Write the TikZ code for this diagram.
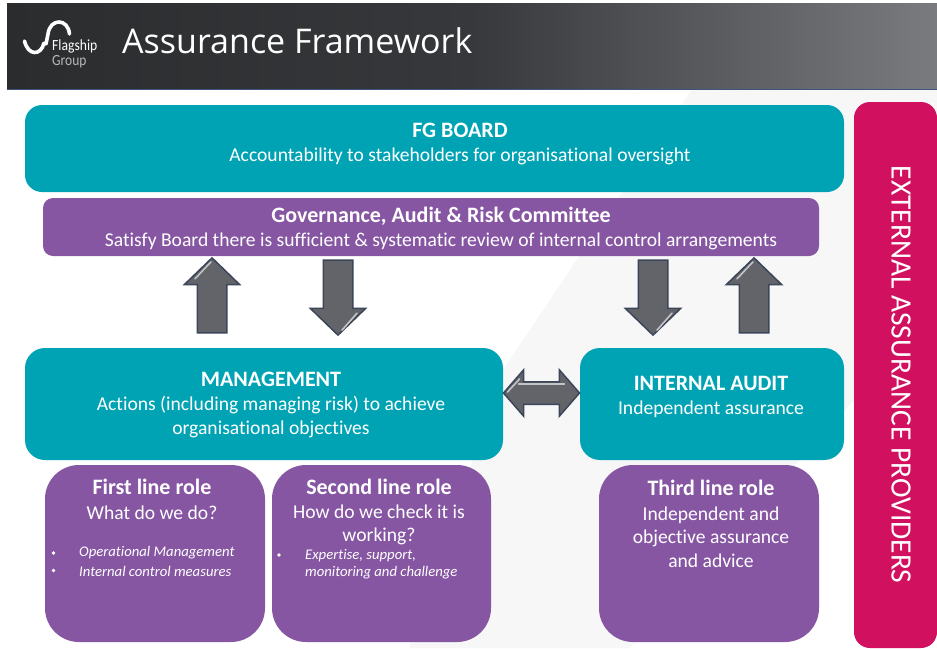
\documentclass[tikz,border=0pt]{standalone}
\usepackage{fontspec}
\setmainfont[Ligatures=NoCommon]{Carlito}
\newfontfamily\titlefont{Open Sans}
\usetikzlibrary{shapes.arrows,shadings}
\definecolor{teal1}{HTML}{00A3B4}
\definecolor{purp1}{HTML}{8656A3}
\definecolor{mag1}{HTML}{D1115F}
\definecolor{arrfill}{HTML}{62646A}
\definecolor{arrline}{HTML}{3C4659}
\definecolor{palebg}{HTML}{F7F7F8}
\definecolor{hdA}{HTML}{2B2C2E}
\definecolor{hdB}{HTML}{37383B}
\definecolor{hdC}{HTML}{7A7B7E}
\definecolor{hdline}{HTML}{3B5580}
\tikzset{
  txt/.style={text=white,align=center,inner sep=0pt,font=\fontsize{19.6}{23.5}\selectfont},
  head/.style={txt,font=\fontsize{22}{24}\selectfont\bfseries},
  bigarrow/.style={single arrow,draw=arrline,line width=1.5pt,fill=arrfill,minimum width=54pt,
    minimum height=75pt,single arrow head extend=13pt,inner sep=14pt,single arrow tip angle=92,anchor=center},
  wideArrow/.style={double arrow,draw=arrline,line width=1.5pt,fill=arrfill,minimum width=45pt,
    minimum height=76pt,double arrow head extend=12pt,inner sep=10.5pt,double arrow tip angle=98,anchor=center},
  bul/.style={text=white,anchor=west,inner sep=0pt,font=\fontsize{14.7}{17.5}\selectfont\itshape},
  dot/.style={fill=white,circle,inner sep=0pt,minimum size=3.6pt},
  glint/.style={line width=1.6pt,color=white!62!arrfill,line cap=round},
  logo/.style={white,line width=3.6pt,line cap=round},
}
\begin{document}
\begin{tikzpicture}[x=1pt,y=-1pt]
\useasboundingbox (0,0) rectangle (937,648);
% background
\fill[palebg] (692,89) -- (937,89) -- (937,300) -- (854,400) -- (630,648) -- (409,648) -- (503,370) -- (580,255) -- cycle;
% header
\shade[left color=hdA,right color=hdB] (7,3) rectangle (470,89);
\shade[left color=hdB,right color=hdC] (470,3) rectangle (937,89);
\draw[line width=1pt,color=hdline] (7,89.5) -- (937,89.5);
\draw[logo] (24.5,41) .. controls (28,56) and (41,56) .. (44,43);
\draw[logo] (46,44) -- (48,34) .. controls (50,18) and (68,18) .. (69.5,34);
\node[text=white,inner sep=0pt,anchor=west,xscale=.88,font=\fontsize{15.5}{15}\selectfont] (flag) at (52,46) {Flagship};
\node[text=black!28,inner sep=0pt,anchor=west,xscale=.87,font=\fontsize{15.5}{15}\selectfont] (grp) at (52,62) {Group};
\node[text=white,anchor=west,inner sep=0pt,font=\titlefont\fontsize{34}{36}\selectfont] (title) at (122,41) {Assurance Framework};
% boxes
\fill[teal1,rounded corners=17pt] (25,105) rectangle (844,192);
\fill[purp1,rounded corners=10pt] (43,198) rectangle (819,256);
\fill[teal1,rounded corners=20pt] (25,348) rectangle (503,460);
\fill[teal1,rounded corners=20pt] (580,348) rectangle (844,460);
\fill[purp1,rounded corners=34pt] (45,465) rectangle (265,642);
\fill[purp1,rounded corners=34pt] (272,465) rectangle (491,642);
\fill[purp1,rounded corners=34pt] (599,465) rectangle (819,642);
\fill[mag1,rounded corners=16pt] (854,102) rectangle (937,648);
% text
\node[head] (board) at (460,130) {FG BOARD};
\node[txt] (boardb) at (460,156) {Accountability to stakeholders for organisational oversight};
\node[head] (gov) at (441,216) {Governance, Audit \& Risk Committee};
\node[txt] (govb) at (441,241) {Satisfy Board there is sufficient \& systematic review of internal control arrangements};
\node[head] (mgmt) at (271,379) {MANAGEMENT};
\node[txt] (mgmtb) at (271,417) {Actions (including managing risk) to achieve\\organisational objectives};
\node[head] (ia) at (711,383) {INTERNAL AUDIT};
\node[txt] (iab) at (711,409) {Independent assurance};
\node[head] (first) at (152,487) {First line role};
\node[txt] (firstb) at (152,513) {What do we do?};
\node[head] (second) at (379,487) {Second line role};
\node[txt] (secondb) at (379,525) {How do we check it is\\working?};
\node[head] (third) at (711,488) {Third line role};
\node[txt] (thirdb) at (711,537) {Independent and\\objective assurance\\and advice};
\node[dot] (b1) at (53.5,553) {};
\node[bul] (b1t) at (79,553) {Operational Management};
\node[dot] (b2) at (53.5,570.5) {};
\node[bul] (b2t) at (79,571) {Internal control measures};
\node[dot] (b3) at (279,555) {};
\node[bul,align=left] (b3t) at (305,564) {Expertise, support,\\monitoring and challenge};
\node[text=white,inner sep=0pt,rotate=-90,font=\fontsize{29.5}{30}\selectfont] (ext) at (901,374.5) {EXTERNAL ASSURANCE PROVIDERS};
% arrows
\node[bigarrow,shape border rotate=90] (u1) at (212,302.5) {};
\node[bigarrow,shape border rotate=270] (d1) at (338,290.5) {};
\node[bigarrow,shape border rotate=270] (d2) at (653,290.5) {};
\node[bigarrow,shape border rotate=90] (u2) at (754,302.5) {};
\node[wideArrow] (lr) at (541.5,393) {};
% bevel glints
\draw[glint] (u1.tip) ++(-1,5) -- ++(-16,17);
\draw[glint] (u2.tip) ++(-1,5) -- ++(-16,17);
\draw[glint] (d1.tip) ++(4,-6) -- ++(15,-17);
\draw[glint] (d2.tip) ++(4,-6) -- ++(15,-17);
\draw[glint,line width=1.2pt] (lr.center) ++(-23,-9) -- ++(46,0);
\draw[glint] (lr.west) ++(5,-1) -- ++(12,-13);
\end{tikzpicture}
\end{document}
